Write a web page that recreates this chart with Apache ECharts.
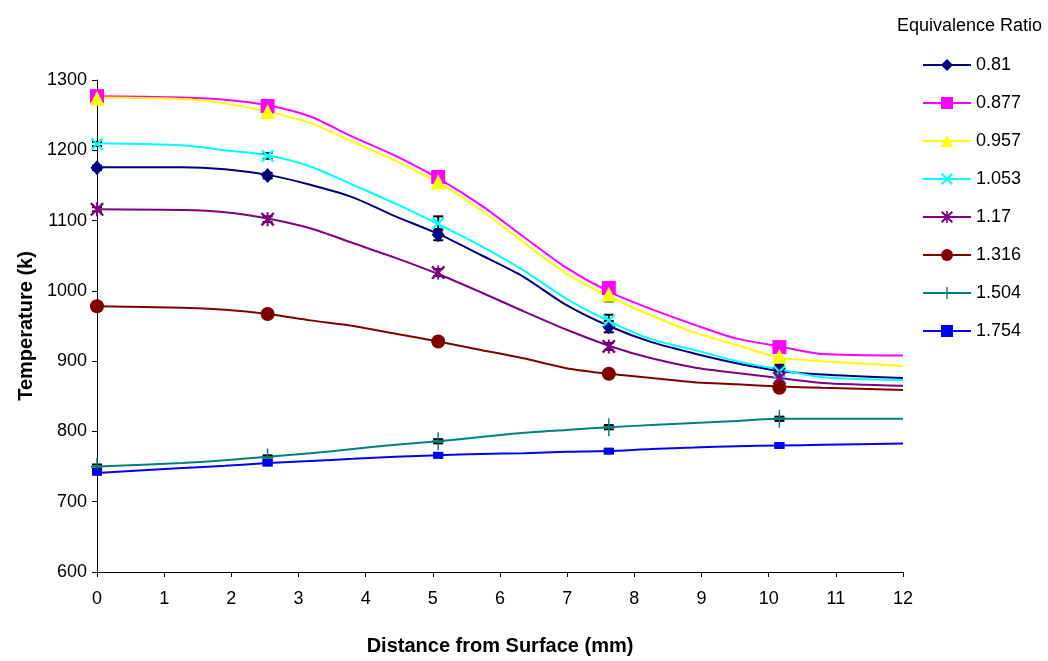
<!DOCTYPE html>
<html>
<head>
<meta charset="utf-8">
<script src="https://cdn.jsdelivr.net/npm/echarts@6/dist/echarts.min.js"></script>
<style>
  html, body { margin: 0; padding: 0; background: #fff; }
  #chart { width: 1048px; height: 661px; }
</style>
</head>
<body>
<div id="chart"></div>
<script>
// Equivalence ratios (legend order)
const ratios = ['0.81', '0.877', '0.957', '1.053', '1.17', '1.316', '1.504', '1.754'];

// Measurement positions (mm) and measured temperatures (K)
const probeX = [0, 2.54, 5.08, 7.62, 10.16];
const meas081  = [1175, 1164, 1080, 949, 890];
const meas0877 = [1277, 1263, 1162, 1004, 920];
const meas0957 = [1274, 1255, 1155, 995, 907];
const meas1053 = [1209, 1192, 1096, 958, 885];
const meas117  = [1116, 1102, 1026, 921, 876];
const meas1316 = [978, 967, 928, 882, 862];
const meas1504 = [750, 763, 786, 806, 818];
const meas1754 = [742, 755, 766, 772, 780];

// Uncertainty (+/- K) at each measurement
const err081  = [3, 4, 8, 8, 5];
const err0877 = [3, 4, 8, 8, 5];
const err0957 = [3, 4, 8, 10, 5];
const err1053 = [3, 4, 10, 8, 5];
const err117  = [3, 4, 5, 5, 5];
const err1316 = [3, 3, 3, 3, 3];
const err1504 = [3, 3, 3, 3, 3];
const err1754 = [3, 3, 3, 3, 3];

// Profile curves (mm, K)
const fitX = [0, 1.27, 1.905, 2.54, 3.175, 3.81, 4.445, 5.08, 5.715, 6.35, 6.985, 7.62, 8.255, 8.89, 9.525, 10.16, 10.795, 12];
const fit081  = [1176, 1176, 1173, 1165, 1151, 1133, 1106, 1081, 1051, 1020, 980, 950, 927, 911, 897, 886, 881, 876];
const fit0877 = [1277, 1275, 1272, 1264, 1248, 1219, 1192, 1160, 1122, 1077, 1033, 999, 974, 952, 932, 921, 910, 908];
const fit0957 = [1275, 1273, 1267, 1255, 1239, 1212, 1185, 1154, 1115, 1069, 1025, 992, 965, 941, 923, 905, 900, 893];
const fit1053 = [1210, 1207, 1200, 1193, 1177, 1151, 1124, 1095, 1064, 1029, 989, 957, 931, 916, 900, 888, 877, 873];
const fit117  = [1116, 1115, 1112, 1103, 1089, 1068, 1047, 1024, 998, 971, 945, 922, 904, 891, 883, 876, 869, 865];
const fit1316 = [978, 976, 973, 967, 958, 950, 939, 928, 916, 904, 890, 882, 876, 870, 867, 864, 862, 859];
const fit1504 = [750, 755, 759, 764, 769, 775, 781, 786, 792, 798, 802, 806, 809, 812, 815, 818, 818, 818];
const fit1754 = [741, 748, 751, 755, 758, 761, 764, 766, 768, 769, 771, 772, 775, 777, 779, 780, 781, 783];

// Axis ticks
const xTicks = [0, 1, 2, 3, 4, 5, 6, 7, 8, 9, 10, 11, 12];
const yTicks = [600, 700, 800, 900, 1000, 1100, 1200, 1300];

const measAll = [meas081, meas0877, meas0957, meas1053, meas117, meas1316, meas1504, meas1754];
const errAll  = [err081, err0877, err0957, err1053, err117, err1316, err1504, err1754];
const fitAll  = [fit081, fit0877, fit0957, fit1053, fit117, fit1316, fit1504, fit1754];

const colors = ['#000080', '#FF00FF', '#FFFF00', '#00FFFF', '#800080', '#800000', '#008080', '#0000FF'];

const crossPath = 'path://M0,1.2 L1.2,0 L5,3.8 L8.8,0 L10,1.2 L6.2,5 L10,8.8 L8.8,10 L5,6.2 L1.2,10 L0,8.8 L3.8,5 Z';
const starPath = 'path://M0,1.2 L1.2,0 L5,3.8 L8.8,0 L10,1.2 L6.2,5 L10,8.8 L8.8,10 L5,6.2 L1.2,10 L0,8.8 L3.8,5 Z M4.3,0 L5.7,0 L5.7,10 L4.3,10 Z';
const plusPath = 'path://M4.4,0 L5.6,0 L5.6,4.4 L10,4.4 L10,5.6 L5.6,5.6 L5.6,10 L4.4,10 L4.4,5.6 L0,5.6 L0,4.4 L4.4,4.4 Z';

const symbols = ['diamond', 'rect', 'triangle', crossPath, starPath, 'circle', plusPath, 'rect'];
const symbolSizes = [[13, 15], 14, 15, 13, 14, 14, [12, 18], [10, 7]];

const series = [];
ratios.forEach((name, i) => {
  series.push({
    name: name,
    type: 'line',
    data: fitX.map((x, k) => [x, fitAll[i][k]]),
    symbol: symbols[i],
    showSymbol: false,
    smooth: 0.25,
    color: colors[i],
    lineStyle: { width: 2, color: colors[i] },
    z: 2,
    silent: true
  });
});
ratios.forEach((name, i) => {
  series.push({
    name: name,
    type: 'custom',
    data: probeX.map((x, k) => [x, measAll[i][k], errAll[i][k]]),
    encode: { x: 0, y: 1 },
    z: 3,
    silent: true,
    renderItem: function (params, api) {
      const x = api.value(0), y = api.value(1), e = api.value(2);
      const top = api.coord([x, y + e]);
      const bot = api.coord([x, y - e]);
      const hw = 5;
      const st = { stroke: '#000', lineWidth: 2 };
      return {
        type: 'group',
        children: [
          { type: 'line', shape: { x1: top[0], y1: top[1], x2: bot[0], y2: bot[1] }, style: st },
          { type: 'line', shape: { x1: top[0] - hw, y1: top[1], x2: top[0] + hw, y2: top[1] }, style: st },
          { type: 'line', shape: { x1: bot[0] - hw, y1: bot[1], x2: bot[0] + hw, y2: bot[1] }, style: st }
        ]
      };
    }
  });
});
ratios.forEach((name, i) => {
  series.push({
    name: name,
    type: 'scatter',
    data: probeX.map((x, k) => [x, measAll[i][k]]),
    symbol: symbols[i],
    symbolSize: symbolSizes[i],
    itemStyle: { color: colors[i], opacity: 1 },
    z: 4,
    silent: true
  });
});

const chart = echarts.init(document.getElementById('chart'), null, { renderer: 'canvas' });
chart.setOption({
  animation: false,
  backgroundColor: '#fff',
  textStyle: { fontFamily: 'Liberation Sans, Arial, sans-serif' },
  title: {
    text: 'Equivalence Ratio',
    left: 892,
    top: 12,
    textStyle: { fontSize: 18, fontWeight: 'normal', color: '#000', fontFamily: 'Liberation Sans, Arial, sans-serif' }
  },
  legend: {
    data: ratios,
    orient: 'vertical',
    left: 917,
    top: 51,
    itemWidth: 48,
    itemHeight: 15,
    itemGap: 20,
    selectedMode: false,
    textStyle: { fontSize: 18, color: '#000', lineHeight: 18, fontFamily: 'Liberation Sans, Arial, sans-serif' }
  },
  grid: { left: 97, top: 80, width: 806, height: 495, containLabel: false },
  xAxis: {
    type: 'value',
    min: xTicks[0],
    max: xTicks[xTicks.length - 1],
    interval: 1,
    name: 'Distance from Surface (mm)',
    nameLocation: 'middle',
    nameGap: 64,
    nameTextStyle: { fontSize: 20, fontWeight: 'bold', color: '#000' },
    axisLine: { show: true, onZero: false, lineStyle: { color: '#000', width: 1 } },
    axisTick: { show: true, length: 5, lineStyle: { color: '#000' } },
    axisLabel: { fontSize: 18, color: '#000', margin: 18 },
    splitLine: { show: false }
  },
  yAxis: {
    type: 'value',
    min: yTicks[0],
    max: yTicks[yTicks.length - 1],
    interval: 100,
    name: 'Temperature (k)',
    nameLocation: 'middle',
    nameGap: 58,
    nameTextStyle: { fontSize: 20, fontWeight: 'bold', color: '#000' },
    axisLine: { show: true, onZero: false, lineStyle: { color: '#000', width: 1 } },
    axisTick: { show: true, length: 5, lineStyle: { color: '#000' } },
    axisLabel: { fontSize: 18, color: '#000', margin: 10, formatter: v => String(v) },
    splitLine: { show: false }
  },
  series: series
});
</script>
</body>
</html>
